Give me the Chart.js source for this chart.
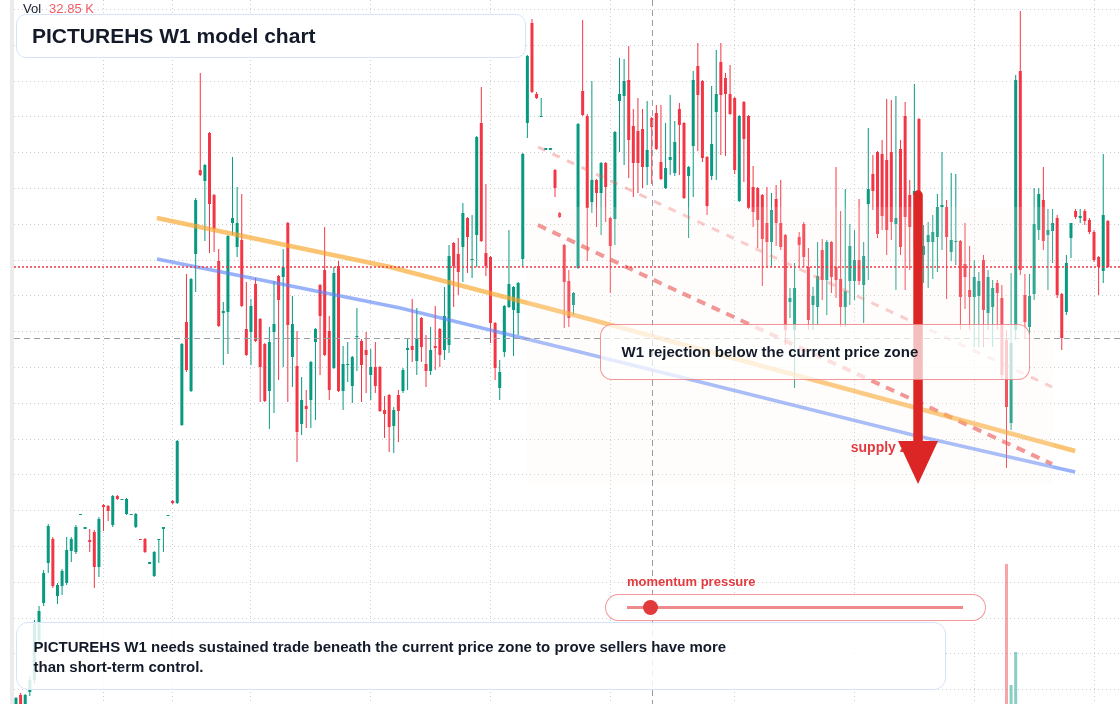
<!DOCTYPE html>
<html>
<head>
<meta charset="utf-8">
<title>PICTUREHS W1 model chart</title>
<script src="https://cdn.jsdelivr.net/npm/chart.js@4.4.1/dist/chart.umd.min.js"></script>
<style>
    html, body { margin: 0; padding: 0; background: #fff; width: 1120px; height: 704px; overflow: hidden; }
    body { font-family: "Liberation Sans", Arial, sans-serif; color: #131a2a; }
    #wrap { position: relative; width: 1120px; height: 704px; }
    #edge { position: absolute; left: 10px; top: 0; width: 4px; height: 704px; background: #ebebeb; }
    #chart { position: absolute; left: 14px; top: 0; }
    .box { position: absolute; box-sizing: border-box; }
    #vol { position: absolute; left: 23px; top: 1px; font-size: 13px; line-height: 16px; white-space: nowrap; }
    #vol span { color: #f05a63; margin-left: 8px; }
    #title { left: 16px; top: 14px; width: 510px; height: 44px; border: 1.5px solid #d6e4fb; border-radius: 10px;
             background: rgba(255,255,255,0.92); font-weight: bold; font-size: 21px; line-height: 41px; padding-left: 15px; }
    #reject { left: 600px; top: 324px; width: 430px; height: 56px; border: 1.5px solid rgba(236,84,90,0.62); border-radius: 12px;
              background: rgba(255,255,255,0.7); font-weight: bold; font-size: 15px; line-height: 53px; padding-left: 20.5px; }
    #momLabel { position: absolute; left: 627px; top: 574px; font-size: 13px; font-weight: bold; color: #e23b3f; white-space: nowrap; }
    #mom { left: 605px; top: 594px; width: 381px; height: 27px; border: 1.5px solid rgba(236,84,90,0.6); border-radius: 14px;
           background: rgba(255,255,255,0.85); }
    #momTrack { position: absolute; left: 20.5px; top: 11px; width: 336px; height: 3px; background: #ee8a8c; }
    #momDot { position: absolute; left: 36.5px; top: 5px; width: 15px; height: 15px; border-radius: 50%; background: #e03a3c; }
    #note { left: 16px; top: 622px; width: 930px; height: 68px; border: 1.5px solid #d6e4fb; border-radius: 12px;
            background: rgba(255,255,255,0.84); font-weight: bold; font-size: 15px; line-height: 20px; padding: 13.5px 0 0 16.5px; }
</style>
</head>
<body>
<div id="wrap">
    <div id="edge"></div>
    <canvas id="chart" width="1106" height="704"></canvas>
    <div id="vol">Vol<span>32.85 K</span></div>
    <div class="box" id="title">PICTUREHS W1 model chart</div>
    <div class="box" id="reject">W1 rejection below the current price zone</div>
    <div id="momLabel">momentum pressure</div>
    <div class="box" id="mom"><div id="momTrack"></div><div id="momDot"></div></div>
    <div class="box" id="note">PICTUREHS W1 needs sustained trade beneath the current price zone to prove sellers have more<br>than short-term control.</div>
</div>
<script>
// W1 bars (one per week, oldest first)
const opens = [
    9.2, 10.5, 9.4, 10.8, 12.0, 16.0, 19.7, 23.7, 26.1, 20.4,
    21.4, 21.7, 24.9, 24.8, 28.5, 27.1, 25.9, 26.8, 23.3, 29.5,
    29.4, 27.5, 30.4, 30.0, 28.6, 28.5, 27.3, 26.1, 26.1, 23.6,
    22.4, 26.0, 27.1, 28.4, 29.9, 29.7, 37.5, 47.8, 40.9, 54.6,
    63.0, 61.9, 66.7, 60.5, 53.9, 48.7, 48.8, 57.7, 55.3, 56.0,
    47.1, 46.8, 51.6, 48.1, 45.6, 40.9, 46.8, 52.4, 52.3, 57.7,
    44.3, 43.4, 37.6, 39.4, 40.0, 45.8, 51.5, 53.0, 46.9, 43.2,
    53.4, 40.9, 43.5, 41.4, 46.3, 45.9, 45.0, 42.5, 43.3, 43.3,
    39.0, 40.5, 37.4, 40.5, 40.9, 45.0, 45.4, 43.9, 48.2, 43.6,
    42.9, 45.4, 47.1, 45.0, 45.5, 55.7, 54.6, 55.3, 58.2, 54.0,
    56.5, 67.7, 54.7, 54.3, 47.7, 41.2, 44.8, 49.3, 49.0, 48.7,
    54.1, 67.7, 77.7, 70.6, 68.3, 65.0, 65.0, 63.0, 58.7, 55.5,
    51.9, 49.5, 53.2, 70.9, 68.4, 59.8, 62.0, 60.7, 63.7, 58.2,
    58.1, 69.9, 70.4, 72.0, 67.4, 66.9, 67.1, 63.3, 68.2, 68.7,
    63.8, 61.2, 64.0, 62.7, 69.1, 67.7, 62.4, 65.4, 73.4, 71.9,
    64.3, 62.4, 68.8, 73.8, 72.2, 70.6, 70.2, 59.9, 69.8, 68.4,
    61.3, 61.2, 60.5, 57.7, 55.8, 60.1, 57.7, 56.5, 49.8, 47.0,
    56.3, 57.6, 53.3, 49.5, 49.3, 55.0, 52.0, 55.8, 53.3, 52.1,
    49.3, 51.9, 51.9, 54.0, 51.5, 59.6, 62.6, 64.8, 64.6, 64.0,
    64.8, 57.6, 65.1, 68.4, 60.5, 60.5, 68.1, 54.5, 55.8, 55.8,
    56.3, 59.3, 59.3, 54.8, 55.8, 55.9, 53.6, 51.0, 50.3, 50.4,
    54.0, 48.7, 49.3, 51.7, 50.2, 46.0, 37.7, 47.0, 72.9, 50.5,
    47.3, 50.6, 57.0, 60.0, 56.5, 56.9, 58.2, 50.6, 48.8, 56.2,
    58.9, 58.2, 58.9, 58.0, 56.8, 54.3, 52.9, 57.9
];
const highs = [
    10.3, 10.7, 10.6, 12.4, 18.0, 19.4, 23.0, 27.6, 26.3, 21.7,
    23.1, 26.3, 26.3, 27.5, 28.6, 27.2, 27.1, 27.0, 28.3, 29.6,
    29.5, 30.5, 30.5, 30.1, 30.2, 28.6, 28.7, 26.1, 26.2, 23.7,
    24.9, 26.1, 27.2, 28.5, 30.0, 36.0, 45.7, 52.6, 52.2, 60.2,
    72.7, 63.6, 66.8, 60.6, 55.1, 49.8, 56.5, 64.3, 61.3, 60.6,
    51.8, 50.1, 52.2, 48.2, 45.7, 47.3, 51.9, 52.5, 55.1, 57.8,
    50.4, 46.9, 42.3, 41.0, 43.9, 47.2, 51.6, 57.3, 48.4, 53.3,
    53.9, 45.4, 45.8, 44.4, 49.2, 46.1, 46.8, 45.1, 45.8, 43.4,
    40.4, 40.6, 39.3, 41.0, 43.2, 46.2, 50.1, 49.2, 48.3, 46.5,
    47.3, 49.4, 47.2, 51.3, 55.5, 55.8, 56.2, 59.7, 58.3, 58.5,
    66.4, 71.3, 61.6, 54.4, 47.8, 44.0, 49.5, 57.0, 51.4, 51.8,
    64.7, 74.5, 78.1, 70.8, 70.2, 65.1, 65.1, 63.1, 58.8, 55.6,
    53.0, 50.8, 67.7, 78.0, 68.6, 71.9, 62.1, 63.8, 63.8, 58.3,
    66.9, 74.2, 74.1, 75.4, 69.1, 70.2, 69.1, 69.9, 68.3, 69.5,
    69.5, 67.7, 70.5, 67.9, 69.7, 67.8, 63.4, 72.9, 75.7, 72.0,
    64.4, 71.4, 75.0, 75.7, 72.7, 73.5, 70.3, 68.5, 69.9, 68.5,
    63.4, 61.3, 60.6, 61.3, 60.7, 61.5, 62.0, 56.6, 51.2, 53.7,
    56.8, 57.8, 55.2, 51.3, 55.8, 56.1, 56.0, 55.9, 63.3, 58.9,
    61.1, 57.6, 57.0, 60.1, 55.8, 67.2, 64.5, 64.9, 66.0, 70.1,
    70.0, 70.4, 66.0, 69.8, 62.0, 71.6, 68.2, 57.5, 57.8, 58.5,
    60.6, 64.8, 60.0, 62.7, 62.6, 56.0, 57.7, 55.4, 54.0, 52.8,
    54.5, 53.0, 52.0, 52.0, 51.5, 47.0, 52.7, 72.5, 78.9, 52.6,
    52.6, 61.2, 61.2, 63.3, 59.1, 59.1, 58.5, 50.7, 54.5, 57.7,
    59.1, 59.1, 59.1, 58.2, 57.0, 54.4, 64.6, 58.0
];
const lows = [
    9.2, 9.4, 9.4, 10.4, 11.6, 15.5, 19.4, 22.7, 21.2, 19.6,
    20.5, 21.5, 23.8, 24.6, 28.5, 27.1, 24.8, 21.2, 22.3, 26.9,
    27.9, 27.3, 30.0, 30.0, 28.5, 28.5, 27.2, 26.0, 24.7, 23.6,
    22.3, 23.7, 24.8, 28.4, 29.6, 29.6, 37.4, 42.8, 40.8, 50.8,
    62.4, 55.9, 54.7, 54.8, 47.3, 43.5, 44.6, 56.5, 54.3, 49.3,
    44.4, 43.5, 45.8, 39.8, 39.8, 37.1, 38.7, 42.0, 43.3, 39.8,
    41.3, 33.8, 36.5, 37.2, 37.2, 38.0, 42.5, 44.4, 40.0, 43.1,
    40.8, 39.0, 41.8, 39.7, 42.9, 39.8, 40.7, 40.0, 40.7, 38.8,
    36.2, 34.8, 34.7, 35.8, 40.7, 41.0, 43.8, 42.5, 43.8, 41.3,
    42.5, 43.0, 43.3, 44.0, 44.7, 49.3, 50.5, 51.8, 52.7, 52.2,
    53.3, 55.8, 52.4, 45.7, 42.0, 40.0, 44.3, 49.2, 44.4, 46.5,
    53.3, 66.2, 70.7, 70.1, 68.3, 65.0, 65.0, 60.3, 58.2, 47.2,
    47.3, 48.5, 53.1, 68.4, 53.9, 58.7, 57.3, 56.5, 57.8, 50.7,
    55.5, 64.8, 63.5, 62.2, 60.3, 60.7, 61.2, 61.5, 61.6, 65.0,
    62.0, 61.1, 62.5, 62.4, 62.5, 60.1, 56.2, 60.3, 64.9, 63.8,
    58.5, 62.0, 62.0, 64.5, 64.4, 68.5, 62.6, 59.8, 61.8, 59.1,
    57.3, 55.2, 51.4, 53.3, 53.3, 55.4, 55.0, 45.5, 48.2, 41.2,
    53.3, 53.3, 47.0, 47.0, 47.5, 50.0, 48.5, 50.7, 50.2, 47.3,
    47.3, 49.5, 50.0, 51.5, 47.7, 52.0, 59.0, 56.2, 57.0, 54.5,
    56.0, 51.0, 54.5, 51.0, 53.0, 55.3, 53.8, 51.7, 51.2, 52.1,
    52.8, 55.0, 50.1, 53.9, 53.5, 47.0, 49.1, 47.0, 45.3, 45.3,
    45.3, 47.0, 45.3, 47.0, 42.0, 33.2, 37.0, 46.0, 52.5, 46.2,
    46.5, 50.0, 56.0, 55.0, 51.0, 53.7, 50.2, 45.0, 48.5, 54.2,
    58.1, 57.7, 57.5, 56.6, 53.8, 50.5, 51.7, 53.2
];
const closes = [
    10.2, 9.4, 10.5, 12.0, 17.6, 18.9, 22.7, 27.4, 21.4, 21.5,
    22.9, 25.0, 26.1, 27.3, 28.6, 27.2, 25.8, 23.3, 28.1, 29.3,
    28.9, 30.4, 30.1, 30.1, 30.1, 28.6, 28.6, 26.0, 24.8, 23.7,
    24.8, 26.1, 27.2, 28.5, 29.7, 35.9, 45.6, 43.0, 52.1, 60.0,
    62.5, 63.5, 59.6, 57.1, 47.4, 48.9, 56.4, 58.2, 57.7, 49.4,
    44.5, 49.4, 45.9, 43.3, 39.9, 45.8, 47.6, 50.0, 53.3, 47.5,
    47.6, 36.8, 40.0, 39.1, 43.8, 47.1, 48.4, 44.5, 41.0, 52.7,
    40.9, 43.6, 43.6, 44.3, 46.4, 43.5, 44.5, 43.3, 41.4, 38.9,
    38.6, 37.3, 39.0, 38.9, 43.0, 45.2, 45.0, 46.2, 45.3, 42.9,
    45.0, 45.2, 44.5, 48.4, 54.4, 53.4, 52.8, 58.7, 56.3, 54.1,
    66.3, 55.9, 53.4, 47.7, 43.2, 42.8, 49.4, 51.6, 51.3, 51.7,
    64.6, 74.4, 70.8, 70.2, 68.4, 65.1, 65.1, 61.2, 58.3, 51.8,
    48.2, 50.7, 67.6, 68.5, 59.2, 62.0, 60.7, 63.7, 61.3, 55.4,
    66.8, 70.6, 71.9, 66.0, 63.7, 63.7, 63.3, 65.0, 67.3, 65.1,
    62.1, 63.2, 64.3, 65.8, 67.5, 60.2, 63.3, 72.0, 70.5, 64.2,
    59.4, 65.6, 70.6, 70.5, 70.6, 68.6, 63.0, 68.4, 66.1, 59.2,
    58.8, 58.0, 56.1, 55.8, 59.0, 57.7, 55.3, 47.0, 50.2, 51.2,
    55.5, 54.3, 48.0, 50.4, 52.4, 52.0, 55.8, 52.3, 52.0, 49.3,
    50.9, 55.4, 54.0, 51.9, 54.4, 61.1, 60.9, 56.6, 58.4, 57.0,
    57.8, 58.2, 55.3, 58.3, 57.3, 60.9, 54.0, 55.4, 56.5, 56.8,
    59.3, 59.5, 56.3, 56.0, 55.9, 50.3, 52.3, 50.3, 52.3, 51.9,
    49.0, 52.3, 51.2, 50.7, 42.5, 39.3, 45.7, 72.0, 53.0, 47.8,
    50.4, 57.6, 60.6, 55.9, 57.0, 57.7, 50.5, 46.2, 53.7, 57.7,
    58.3, 58.3, 57.9, 56.8, 54.0, 53.3, 58.5, 53.3
];

// only the last few volume bars rise above the bottom edge (K)
const volumeBars = [215, 216, 217];
const volumeK = [994, 135, 369];

// time grid (bar index) and price grid
const timeGrid = [19, 34, 51, 77, 103, 129, 156, 182, 208, 234];
const priceGrid = [79.1, 75.5, 71.9, 68.4, 64.8, 61.2, 57.6, 54.0, 50.5, 46.9,
                   43.3, 39.7, 36.1, 32.6, 29.0, 25.4, 21.8, 18.2, 14.7, 11.1];

// drawn trend lines (bar index, price)
const orangeLine = [[30.6, 58.2], [81.2, 53.3], [125.2, 48.0], [194.7, 39.3], [229.9, 34.9]];
const blueLine = [[30.6, 54.1], [83.4, 49.2], [122.4, 44.8], [194.7, 36.5], [229.9, 32.8]];
const redDashLine = [[113.3, 57.5], [139.8, 51.7], [224.9, 33.6]];
const paleDashLine = [[113.3, 65.3], [224.9, 41.3]];

// annotations
const zone = { from: 110.9, to: 225.1, top: 59.3, bottom: 31.6 };
const crosshair = { idx: 138, price: 46.2 };
const arrow = { idx: 195.8, top: 61.0, headStart: 35.9, tip: 31.6 };
const supplyLabel = { idx: 181.2, price: 35.2, text: 'supply zone' };

const UP = '#089981';
const DOWN = '#f23645';

const isUp = closes.map((c, i) => c >= opens[i]);
const toPts = line => line.map(p => ({ x: p[0], y: p[1] }));

const wickData = highs.map((h, i) => ({ x: i, y: [lows[i], h] }));
const bodyData = opens.map((o, i) => ({ x: i, y: [Math.min(o, closes[i]), Math.max(o, closes[i]) + (Math.abs(o - closes[i]) < 0.1 ? 0.1 : 0)] }));
const volData = volumeBars.map((idx, i) => ({ x: idx, y: volumeK[i] }));
const volColors = volumeBars.map(idx => isUp[idx] ? 'rgba(8,153,129,0.48)' : 'rgba(242,54,69,0.45)');

const annotationsPlugin = {
    id: 'annotations',
    afterDatasetsDraw(chart) {
        const { ctx, scales: { x, y } } = chart;
        ctx.save();

        // faint shaded area
        const zx1 = x.getPixelForValue(zone.from), zx2 = x.getPixelForValue(zone.to);
        const zy1 = y.getPixelForValue(zone.top), zy2 = y.getPixelForValue(zone.bottom);
        ctx.fillStyle = 'rgba(255,243,236,0.16)';
        ctx.fillRect(zx1, zy1, zx2 - zx1, zy2 - zy1);

        // crosshair
        ctx.strokeStyle = '#9a9ca4';
        ctx.lineWidth = 1;
        ctx.setLineDash([6, 4]);
        const cx = Math.round(x.getPixelForValue(crosshair.idx)) + 0.5;
        const cy = Math.round(y.getPixelForValue(crosshair.price)) + 0.5;
        ctx.beginPath();
        ctx.moveTo(cx, 0); ctx.lineTo(cx, chart.height);
        ctx.moveTo(0, cy); ctx.lineTo(chart.width, cy);
        ctx.stroke();

        // last price line
        const ly = Math.round(y.getPixelForValue(closes[closes.length - 1]));
        ctx.strokeStyle = '#f23645';
        ctx.setLineDash([2, 2]);
        ctx.lineWidth = 1.5;
        ctx.beginPath();
        ctx.moveTo(0, ly); ctx.lineTo(chart.width, ly);
        ctx.stroke();
        ctx.setLineDash([]);

        // supply zone label (sits under the arrow)
        ctx.fillStyle = '#e23b3f';
        ctx.font = 'bold 14px "Liberation Sans", Arial, sans-serif';
        ctx.textBaseline = 'middle';
        ctx.fillText(supplyLabel.text, x.getPixelForValue(supplyLabel.idx), y.getPixelForValue(supplyLabel.price));

        // big red arrow
        const ax = x.getPixelForValue(arrow.idx);
        const aTop = y.getPixelForValue(arrow.top);
        const aHead = y.getPixelForValue(arrow.headStart);
        const aTip = y.getPixelForValue(arrow.tip);
        ctx.fillStyle = '#dc2626';
        ctx.strokeStyle = '#dc2626';
        ctx.lineWidth = 9.5;
        ctx.lineCap = 'round';
        ctx.beginPath();
        ctx.moveTo(ax, aTop + 5); ctx.lineTo(ax, aHead + 2);
        ctx.stroke();
        ctx.beginPath();
        ctx.moveTo(ax - 20, aHead); ctx.lineTo(ax + 20, aHead); ctx.lineTo(ax, aTip);
        ctx.closePath();
        ctx.fill();

        ctx.restore();
    }
};

new Chart(document.getElementById('chart'), {
    type: 'bar',
    data: {
        datasets: [
            {
                type: 'line', data: toPts(orangeLine), borderColor: 'rgba(247,165,40,0.65)', borderWidth: 4.5,
                pointRadius: 0, order: 1
            },
            {
                type: 'line', data: toPts(blueLine), borderColor: 'rgba(90,130,245,0.62)', borderWidth: 3.5,
                pointRadius: 0, order: 1
            },
            {
                type: 'line', data: toPts(redDashLine), borderColor: 'rgba(226,52,52,0.6)', borderWidth: 4,
                borderDash: [9, 7], pointRadius: 0, order: 1
            },
            {
                type: 'line', data: toPts(paleDashLine), borderColor: 'rgba(236,90,90,0.35)', borderWidth: 3,
                borderDash: [8, 8], pointRadius: 0, order: 1
            },
            {
                data: bodyData, backgroundColor: isUp.map(u => u ? UP : DOWN), barThickness: 3,
                grouped: false, borderWidth: 0, inflateAmount: 0, order: 2
            },
            {
                data: wickData, backgroundColor: isUp.map(u => u ? UP : DOWN), barThickness: 1,
                grouped: false, borderWidth: 0, inflateAmount: 0, order: 3
            },
            {
                data: volData, yAxisID: 'yv', backgroundColor: volColors, barThickness: 3,
                grouped: false, borderWidth: 0, inflateAmount: 0, order: 4
            }
        ]
    },
    options: {
        responsive: false,
        animation: false,
        events: [],
        layout: { padding: 0 },
        plugins: { legend: { display: false }, tooltip: { enabled: false } },
        scales: {
            x: {
                type: 'linear', min: -0.434, max: 239.64, offset: false,
                grid: { color: '#cdcdcd', drawTicks: false, offset: false },
                border: { display: false, dash: [1, 3] },
                ticks: { display: false },
                afterBuildTicks: s => { s.ticks = timeGrid.map(v => ({ value: v })); }
            },
            y: {
                type: 'linear', min: 9.6, max: 80,
                grid: { color: '#cdcdcd', drawTicks: false },
                border: { display: false, dash: [1, 3] },
                ticks: { display: false },
                afterBuildTicks: s => { s.ticks = priceGrid.map(v => ({ value: v })); }
            },
            yv: { type: 'linear', display: false, min: 0, max: 5000 }
        }
    },
    plugins: [annotationsPlugin]
});
</script>
</body>
</html>
